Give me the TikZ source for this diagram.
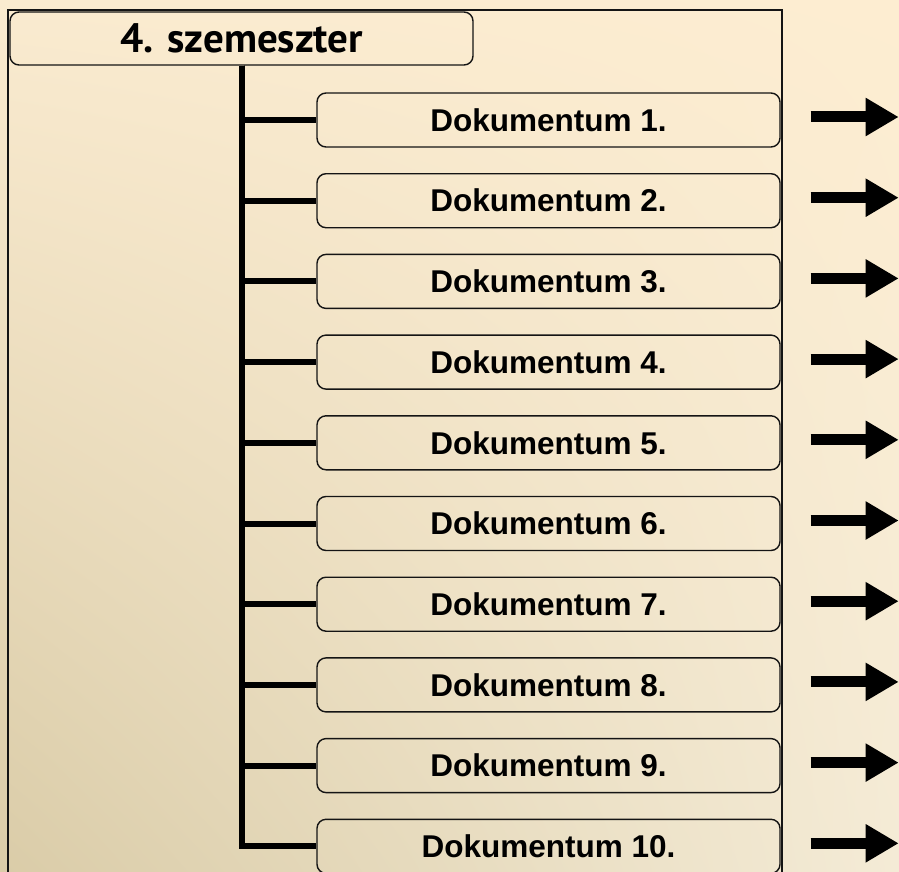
\documentclass[tikz,border=0pt]{standalone}
\usepackage{fontspec}
\setmainfont{Liberation Sans}
\newfontfamily\semfont{PT Sans}
\usetikzlibrary{arrows.meta}
\usetikzlibrary{positioning, shadings}

\definecolor{bgul}{RGB}{250,235,208}
\definecolor{bgur}{RGB}{253,237,209}
\definecolor{bglr}{RGB}{244,235,214}
\definecolor{bgll}{RGB}{218,204,168}
\definecolor{linecol}{RGB}{20,20,20}

\begin{document}
\begin{tikzpicture}[x=1pt,y=-1pt]
\tikzset{font=\fontsize{31.5}{36}\selectfont\bfseries}
\tikzset{every node/.style={inner sep=0pt}}
\tikzset{sembox/.style={draw=linecol, line width=1.4pt, rounded corners=9pt, minimum width=463pt, minimum height=53pt, font=\semfont\bfseries\fontsize{41}{46}\selectfont}}
\tikzset{docbox/.style={draw=linecol, line width=1.4pt, rounded corners=9pt, minimum width=463pt, minimum height=54pt}}
\tikzset{branch/.style={line width=6pt, line cap=butt}}
\tikzset{arr/.style={line width=11pt, -{Triangle[length=33pt, width=36pt]}}}

\useasboundingbox (0,0) rectangle (899,872);
\shade[lower left=bgll, upper left=bgul, upper right=bgur, lower right=bglr] (0,0) rectangle (899,872);

% frame
\draw[linecol, line width=1.8pt] (8,875) -- (8,10) -- (782,10) -- (782,875);

\node[sembox] (sem) at (241.5,38.5) {4. szemeszter};

\foreach \i in {1,...,10} {
  \node[docbox] (d\i) at (548.5,{120+80.7*(\i-1)}) {Dokumentum \i.};
  \draw[branch] (sem.south) |- (d\i.west);
  \coordinate (s\i) at ([xshift=30pt,yshift=3pt]d\i.east);
  \coordinate (t\i) at ([xshift=118pt,yshift=3pt]d\i.east);
  \draw[arr] (s\i) -- (t\i);
}

\end{tikzpicture}
\end{document}
